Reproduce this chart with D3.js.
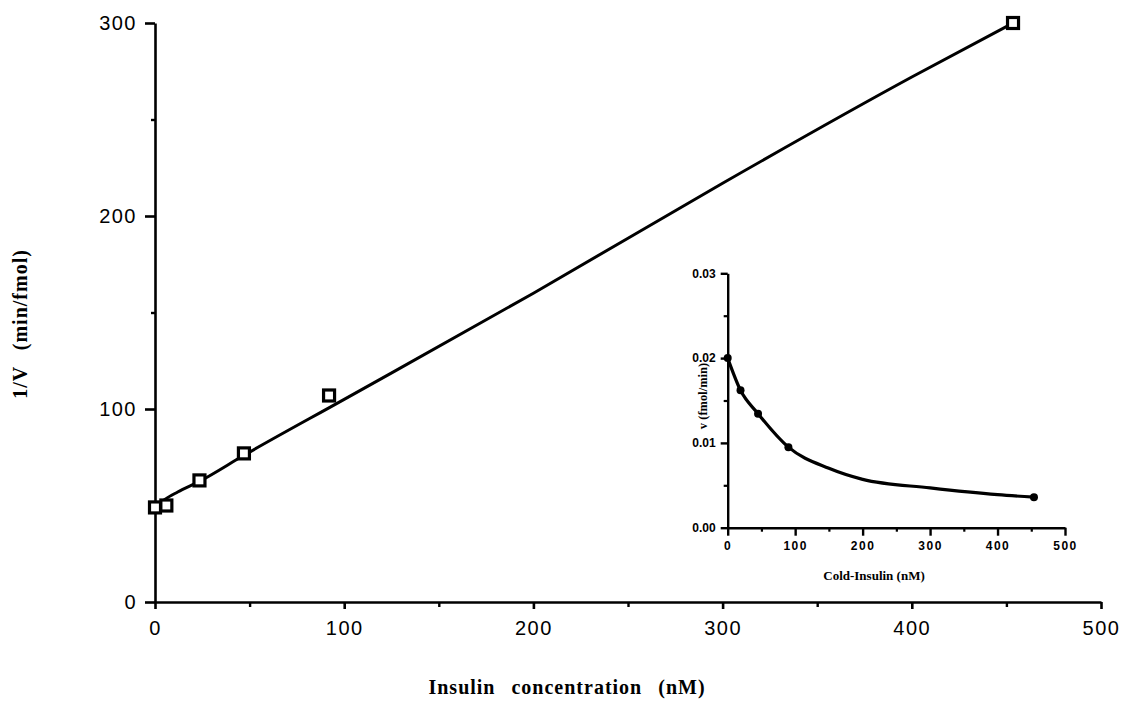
<!DOCTYPE html>
<html>
<head>
<meta charset="utf-8">
<script src="https://cdn.jsdelivr.net/npm/d3@7"></script>
<style>
  body { margin: 0; background: #fff; }
  .tick text { font-family: "Liberation Sans", Arial, sans-serif; }
  .title { font-family: "Liberation Serif", "Times New Roman", serif; font-weight: bold; }
</style>
</head>
<body>
<svg id="chart" width="1123" height="717"></svg>
<script>
// main plot: 1/V against insulin concentration
var mainPoints = [[0, 49], [6, 50], [23.5, 63], [47, 77], [92, 107], [453.5, 300]];
var mainLine = [[0, 49], [5, 53], [12, 57], [23.5, 62.5], [47, 76], [100, 105], [200, 160], [300, 217], [400, 272], [453.5, 300]];
var mainXTicks = [0, 100, 200, 300, 400, 500];
var mainYTicks = [0, 100, 200, 300];

// inset: v against cold insulin
var insetPoints = [[0, 0.0200], [19, 0.0162], [45, 0.01345], [90, 0.0095], [454, 0.0036]];
var insetLine = [[0, 0.0200], [19, 0.0162], [45, 0.01345], [90, 0.0095], [150, 0.0070], [200, 0.0057], [300, 0.0047], [400, 0.0039], [454, 0.0036]];
var insetXTicks = [0, 100, 200, 300, 400, 500];
var insetYTicks = [0, 0.01, 0.02, 0.03];

var svg = d3.select("#chart");

function minorTicks(ticks, step) {
    var out = [];
    for (var i = 0; i < ticks.length - 1; i++) out.push(ticks[i] + step);
    return out;
}

function styleAxis(g, width) {
    g.select(".domain").attr("stroke", "#000").attr("stroke-width", width);
    g.selectAll(".tick line").attr("stroke", "#000").attr("stroke-width", width);
}

// ---- main chart ----
var x = d3.scaleLinear().domain([0, 500]).range([155, 1101]);
var y = d3.scaleLinear().domain([0, 300]).range([602, 23]);

var gx = svg.append("g").attr("transform", "translate(0,602)")
    .call(d3.axisBottom(x).tickValues(mainXTicks).tickSize(7).tickSizeOuter(0).tickPadding(12));
gx.selectAll(".tick text").attr("font-size", 20).attr("letter-spacing", 1.5);
styleAxis(gx, 2.6);
svg.append("g").attr("transform", "translate(0,602)")
    .call(d3.axisBottom(x).tickValues(minorTicks(mainXTicks, 50)).tickSize(5).tickFormat(""))
    .call(function(g) { g.select(".domain").remove(); styleAxis(g, 2.4); });

var gy = svg.append("g").attr("transform", "translate(155,0)")
    .call(d3.axisLeft(y).tickValues(mainYTicks).tickSize(10).tickSizeOuter(0).tickPadding(8));
gy.selectAll(".tick text").attr("font-size", 20).attr("letter-spacing", 1.5);
styleAxis(gy, 2.6);
svg.append("g").attr("transform", "translate(155,0)")
    .call(d3.axisLeft(y).tickValues(minorTicks(mainYTicks, 50)).tickSize(4).tickFormat(""))
    .call(function(g) { g.select(".domain").remove(); styleAxis(g, 2.4); });

svg.append("text").attr("class", "title")
    .attr("transform", "translate(27,324) rotate(-90)")
    .attr("text-anchor", "middle").attr("font-size", 20).attr("word-spacing", 10).attr("letter-spacing", 1)
    .text("1/V (min/fmol)");
svg.append("text").attr("class", "title")
    .attr("x", 567).attr("y", 694)
    .attr("text-anchor", "middle").attr("font-size", 20).attr("word-spacing", 10).attr("letter-spacing", 1)
    .text("Insulin concentration (nM)");

var line = d3.line().x(function(d) { return x(d[0]); }).y(function(d) { return y(d[1]); })
    .curve(d3.curveMonotoneX);
svg.append("path").datum(mainLine).attr("d", line)
    .attr("fill", "none").attr("stroke", "#000").attr("stroke-width", 3);

svg.append("g").selectAll("rect").data(mainPoints).enter().append("rect")
    .attr("x", function(d) { return x(d[0]) - 5.5; })
    .attr("y", function(d) { return y(d[1]) - 5.5; })
    .attr("width", 11).attr("height", 11)
    .attr("fill", "#fff").attr("stroke", "#000").attr("stroke-width", 3.2);

// ---- inset ----
var ix = d3.scaleLinear().domain([0, 500]).range([727.7, 1065]);
var iy = d3.scaleLinear().domain([0, 0.03]).range([527.7, 273.3]);

var igx = svg.append("g").attr("transform", "translate(0,527.7)")
    .call(d3.axisBottom(ix).tickValues(insetXTicks).tickSize(8).tickSizeOuter(0).tickPadding(6));
igx.selectAll(".tick text").attr("font-size", 12).attr("font-weight", "bold").attr("letter-spacing", 1.5);
styleAxis(igx, 2.4);
svg.append("g").attr("transform", "translate(0,527.7)")
    .call(d3.axisBottom(ix).tickValues(minorTicks(insetXTicks, 50)).tickSize(4).tickFormat(""))
    .call(function(g) { g.select(".domain").remove(); styleAxis(g, 2.2); });

var igy = svg.append("g").attr("transform", "translate(727.7,0)")
    .call(d3.axisLeft(iy).tickValues(insetYTicks).tickSize(7).tickSizeOuter(0).tickPadding(5)
        .tickFormat(d3.format(".2f")));
igy.selectAll(".tick text").attr("font-size", 12).attr("font-weight", "bold");
styleAxis(igy, 2.4);
svg.append("g").attr("transform", "translate(727.7,0)")
    .call(d3.axisLeft(iy).tickValues([0.005, 0.015, 0.025]).tickSize(4).tickFormat(""))
    .call(function(g) { g.select(".domain").remove(); styleAxis(g, 2.2); });

svg.append("text").attr("class", "title")
    .attr("transform", "translate(707,396) rotate(-90)")
    .attr("text-anchor", "middle").attr("font-size", 12.5).attr("font-weight", "normal")
    .text("v (fmol/min)");
svg.append("text").attr("class", "title")
    .attr("x", 874).attr("y", 580)
    .attr("text-anchor", "middle").attr("font-size", 13).attr("font-weight", "normal")
    .text("Cold-Insulin (nM)");

var iline = d3.line().x(function(d) { return ix(d[0]); }).y(function(d) { return iy(d[1]); })
    .curve(d3.curveMonotoneX);
svg.append("path").datum(insetLine).attr("d", iline)
    .attr("fill", "none").attr("stroke", "#000").attr("stroke-width", 3.2);

svg.append("g").selectAll("circle").data(insetPoints).enter().append("circle")
    .attr("cx", function(d) { return ix(d[0]); })
    .attr("cy", function(d) { return iy(d[1]); })
    .attr("r", 4).attr("fill", "#000");
</script>
</body>
</html>
